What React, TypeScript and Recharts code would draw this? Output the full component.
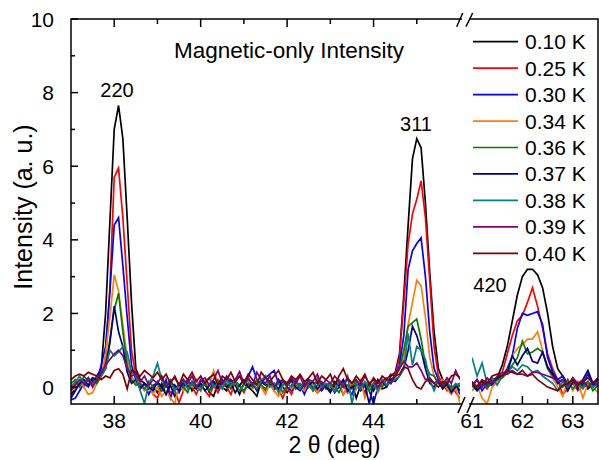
import { LineChart, Line, XAxis, YAxis } from "recharts";

const FONT = '"Liberation Sans", Arial, Helvetica, sans-serif';
const INK = "#000";
const W = 599;
const H = 460;
const PLOT_TOP = 19;
const PLOT_BOTTOM = 404;
const LEFT_X0 = 71;
const LEFT_X1 = 460;
const RIGHT_X0 = 472;
const RIGHT_X1 = 598;

// 2-theta grid, left block (37-46 deg) and right block (61-63.5 deg)
const X_LEFT = [
  37.0, 37.1, 37.2, 37.3, 37.4, 37.5, 37.6, 37.7, 37.8, 37.9,
  38.0, 38.1, 38.2, 38.3, 38.4, 38.5, 38.6, 38.7, 38.8, 38.9,
  39.0, 39.1, 39.2, 39.3, 39.4, 39.5, 39.6, 39.7, 39.8, 39.9,
  40.0, 40.1, 40.2, 40.3, 40.4, 40.5, 40.6, 40.7, 40.8, 40.9,
  41.0, 41.1, 41.2, 41.3, 41.4, 41.5, 41.6, 41.7, 41.8, 41.9,
  42.0, 42.1, 42.2, 42.3, 42.4, 42.5, 42.6, 42.7, 42.8, 42.9,
  43.0, 43.1, 43.2, 43.3, 43.4, 43.5, 43.6, 43.7, 43.8, 43.9,
  44.0, 44.1, 44.2, 44.3, 44.4, 44.5, 44.6, 44.7, 44.8, 44.9,
  45.0, 45.1, 45.2, 45.3, 45.4, 45.5, 45.6, 45.7, 45.8, 45.9, 46.0,
];
const X_RIGHT = [
  61.0, 61.1, 61.2, 61.3, 61.4, 61.5, 61.6, 61.7, 61.8, 61.9,
  62.0, 62.1, 62.2, 62.3, 62.4, 62.5, 62.6, 62.7, 62.8, 62.9,
  63.0, 63.1, 63.2, 63.3, 63.4, 63.5,
];

const K010_L = [
  -0.2, -0.05, 0.1, 0.05, 0.2, 0.15, 0.3, 0.5, 2.0, 4.5,
  7.0, 7.65, 6.75, 4.6, 2.3, 0.5, 0.2, 0.1, -0.05, 0.0,
  -0.15, 0.1, -0.2, 0.05, -0.25, -0.1, 0.0, 0.2, -0.1, 0.05,
  -0.05, 0.15, -0.15, -0.25, 0.1, 0.0, -0.1, 0.2, 0.05, -0.2,
  0.1, 0.0, -0.1, -0.25, 0.15, 0.05, 0.1, -0.1, 0.2, 0.0,
  -0.15, 0.05, 0.1, -0.05, 0.15, 0.2, 0.0, -0.15, 0.1, 0.05,
  -0.1, 0.15, 0.05, -0.2, 0.0, 0.1, -0.3, 0.05, -0.15, 0.1,
  -0.1, 0.2, -0.05, 0.0, 0.3, 0.4, 0.9, 2.5, 4.4, 6.2,
  6.75, 6.5, 5.0, 3.1, 1.5, 0.5, 0.2, 0.0, -0.1, 0.05, -0.1,
];
const K025_L = [
  -0.1, 0.1, 0.2, 0.0, 0.25, 0.1, 0.3, 0.4, 0.7, 2.7,
  5.7, 5.95, 4.6, 2.8, 1.0, 0.3, 0.1, -0.1, 0.05, -0.2,
  -0.3, 0.0, 0.1, -0.15, -0.1, -0.42, -0.1, 0.15, 0.0, -0.2,
  0.1, -0.1, -0.25, 0.05, -0.15, 0.1, 0.0, -0.2, 0.15, 0.05,
  -0.15, 0.1, -0.05, 0.2, 0.0, -0.1, 0.15, 0.05, -0.05, -0.3,
  0.0, -0.2, 0.1, 0.05, -0.1, 0.0, 0.15, -0.15, -0.05, 0.1,
  0.0, -0.1, 0.2, 0.05, -0.15, 0.1, -0.05, 0.15, -0.2, 0.0,
  0.1, -0.1, 0.2, 0.05, 0.15, 0.35, 0.8, 2.3, 3.9, 4.7,
  5.1, 5.6, 4.6, 2.9, 1.1, 0.3, 0.1, -0.1, 0.05, -0.15, -0.3,
];
const K030_L = [
  -0.35, -0.3, -0.1, 0.1, 0.0, 0.2, 0.15, 0.6, 1.1, 2.6,
  4.4, 4.6, 3.3, 1.9, 0.6, 0.2, 0.0, 0.1, -0.2, 0.05,
  0.1, -0.1, 0.2, -0.3, 0.05, -0.15, 0.1, 0.0, 0.15, -0.05,
  0.2, 0.05, -0.1, 0.15, 0.0, 0.1, 0.25, 0.05, 0.15, 0.3,
  0.1, 0.3, 0.55, 0.2, 0.1, 0.25, 0.35, 0.45, 0.1, 0.2,
  0.0, -0.1, 0.15, 0.05, -0.2, 0.1, 0.0, 0.15, -0.1, 0.05,
  0.1, -0.15, 0.0, 0.2, -0.05, -0.2, 0.1, -0.1, 0.05, -0.1,
  -0.45, 0.0, 0.15, 0.05, 0.2, 0.3, 0.6, 1.4, 3.2, 3.7,
  3.9, 4.05, 3.0, 1.5, 0.5, 0.2, 0.0, 0.15, -0.1, 0.05, -0.2,
];
const K034_L = [
  0.05, -0.1, 0.15, 0.0, -0.2, -0.15, 0.1, 0.3, 0.9, 1.9,
  3.05, 2.6, 1.7, 0.8, 0.3, 0.1, 0.15, -0.1, 0.05, -0.2,
  0.0, -0.25, -0.1, -0.3, -0.45, 0.05, -0.1, 0.1, 0.0, 0.2,
  -0.1, 0.15, 0.05, 0.45, 0.1, -0.05, 0.2, 0.0, -0.15, 0.05,
  0.1, 0.2, -0.05, 0.15, 0.0, -0.2, 0.1, -0.1, -0.25, 0.05,
  0.15, -0.05, 0.1, 0.0, -0.1, 0.2, 0.05, -0.15, 0.1, 0.0,
  0.05, -0.1, 0.15, -0.2, 0.0, 0.1, -0.05, 0.2, -0.3, 0.0,
  0.1, -0.15, 0.05, 0.2, 0.1, 0.25, 0.5, 0.8, 1.7, 2.3,
  2.9, 2.75, 1.9, 0.8, 0.3, 0.1, 0.2, -0.05, -0.2, 0.0, -0.45,
];
const K036_L = [
  0.1, 0.2, 0.0, 0.3, 0.15, 0.25, 0.1, 0.3, 0.5, 1.3,
  2.1, 2.55, 1.5, 0.6, 0.2, 0.05, 0.1, -0.05, 0.15, 0.0,
  0.1, -0.1, 0.05, 0.2, -0.05, 0.1, 0.0, -0.15, 0.15, 0.05,
  0.0, 0.1, -0.1, 0.05, 0.2, 0.0, 0.1, -0.05, 0.15, 0.05,
  -0.1, 0.1, 0.0, 0.2, 0.05, -0.05, 0.15, 0.0, 0.1, -0.15,
  0.05, 0.15, -0.05, 0.1, 0.0, 0.2, -0.1, 0.05, 0.15, -0.05,
  0.1, 0.0, -0.15, 0.1, 0.05, -0.05, 0.2, 0.0, 0.1, -0.1,
  0.05, 0.15, 0.0, 0.2, 0.1, 0.3, 0.5, 1.0, 1.65, 1.75,
  1.85, 1.3, 0.6, 0.35, 0.3, 0.1, 0.0, 0.15, -0.1, 0.05, 0.1,
];
const K037_L = [
  -0.3, -0.1, 0.1, 0.2, 0.05, 0.25, 0.2, 0.35, 0.5, 1.2,
  2.2, 1.5, 1.1, 0.4, 0.1, 0.2, -0.05, 0.1, 0.0, -0.1,
  0.15, 0.0, -0.2, 0.1, 0.05, -0.1, 0.2, 0.0, 0.1, -0.05,
  0.1, -0.1, 0.05, 0.15, -0.05, 0.2, 0.0, 0.1, -0.15, 0.05,
  0.2, 0.0, 0.1, -0.1, 0.15, 0.3, 0.05, 0.1, -0.05, 0.15,
  0.05, 0.2, 0.0, -0.1, 0.1, 0.05, 0.15, -0.05, 0.1, 0.0,
  -0.15, 0.1, 0.05, 0.2, -0.1, 0.0, 0.05, 0.1, 0.05, -0.45,
  0.1, -0.05, 0.15, 0.0, 0.2, 0.15, 0.3, 0.5, 1.0, 1.65,
  1.4, 1.0, 0.5, 0.1, 0.0, 0.15, -0.05, 0.1, -0.15, 0.0, 0.05,
];
const K038_L = [
  0.0, 0.15, 0.3, 0.1, 0.25, 0.05, 0.2, 0.3, 0.5, 1.0,
  0.85, 0.95, 1.1, 0.95, 0.4, 0.3, -0.1, -0.45, 0.1, 0.3,
  0.65, 0.2, 0.0, 0.15, -0.1, 0.05, 0.2, -0.05, 0.1, 0.0,
  -0.1, 0.15, 0.25, 0.0, 0.1, -0.05, 0.2, 0.05, 0.15, -0.1,
  0.05, 0.2, 0.1, -0.05, 0.15, 0.3, 0.0, 0.1, -0.15, 0.05,
  0.1, 0.0, 0.2, -0.05, 0.15, 0.05, -0.1, 0.25, 0.0, 0.1,
  0.05, -0.1, 0.15, 0.0, 0.3, -0.45, 0.1, -0.05, 0.15, 0.0,
  0.1, -0.1, 0.2, 0.05, 0.15, 0.2, 0.3, 0.5, 1.45, 0.6,
  1.1, 1.0, 0.75, 0.2, -0.1, 0.2, 0.05, 0.15, -0.05, 0.1, 0.0,
];
const K039_L = [
  -0.1, 0.05, 0.2, 0.1, 0.25, 0.0, 0.2, 0.4, 0.6, 0.75,
  0.9, 1.0, 0.85, 0.5, 0.3, 0.35, 0.15, 0.3, 0.05, 0.2,
  0.1, 0.3, 0.0, 0.15, 0.25, 0.05, 0.2, 0.1, 0.3, 0.0,
  0.15, 0.25, 0.05, 0.2, 0.45, 0.1, 0.3, 0.15, 0.2, 0.42,
  0.1, 0.25, 0.05, 0.4, 0.2, 0.1, 0.3, 0.0, 0.2, 0.15,
  0.05, 0.25, 0.1, 0.3, 0.0, 0.2, 0.15, 0.35, 0.05, 0.2,
  0.1, 0.3, 0.15, 0.0, 0.25, 0.1, 0.2, 0.05, 0.3, 0.1,
  0.2, 0.0, 0.15, 0.25, 0.1, 0.3, 0.5, 0.7, 0.55, 0.55,
  0.65, 0.45, 0.2, 0.25, 0.1, 0.2, 0.05, 0.25, 0.1, 0.45, 0.2,
];
const K040_L = [
  0.2, 0.3, 0.35, 0.3, 0.4, 0.35, 0.3, 0.2, 0.3, 0.25,
  0.45, 0.5, 0.35, -0.05, 0.45, 0.4, 0.3, 0.45, 0.35, 0.25,
  0.4, 0.2, 0.35, 0.1, 0.3, 0.05, 0.35, 0.2, 0.4, 0.15,
  0.3, 0.1, 0.25, 0.35, 0.05, 0.3, 0.2, 0.4, 0.15, 0.3,
  0.1, 0.35, 0.2, 0.05, 0.4, 0.25, 0.15, 0.3, 0.45, 0.2,
  0.1, 0.3, 0.2, 0.35, 0.15, 0.25, 0.4, 0.1, 0.3, 0.2,
  0.35, 0.05, 0.3, 0.5, 0.2, 0.1, 0.3, 0.15, 0.35, 0.05,
  0.25, 0.1, 0.3, 0.2, 0.35, 0.3, 0.35, 0.55, 0.5, 0.2,
  0.0, -0.05, 0.15, 0.2, 0.1, 0.0, 0.15, 0.1, 0.3, 0.35, 0.25,
];

const K010_R = [0.1, -0.05, 0.15, 0.05, 0.2, 0.25, 0.6, 1.1, 1.8, 2.5, 3.0, 3.2, 3.2, 3.05, 2.7, 2.0, 1.1, 0.5, 0.3, 0.1, 0.2, 0.0, 0.15, -0.05, 0.1, 0.05];
const K025_R = [-0.1, 0.05, 0.1, -0.05, 0.15, 0.2, 0.4, 0.9, 1.4, 1.8, 1.95, 2.3, 2.7, 2.2, 1.6, 0.9, 0.5, 0.2, -0.2, -0.05, 0.1, -0.1, 0.05, 0.15, 0.0, 0.1];
const K030_R = [0.0, 0.2, -0.1, 0.1, 0.05, 0.2, 0.3, 0.5, 0.85, 1.6, 2.0, 1.95, 2.0, 2.05, 1.7, 0.8, 0.4, 0.2, 0.3, 0.0, 0.25, -0.05, 0.1, 0.35, 0.05, 0.2];
const K034_R = [-0.1, 0.05, -0.3, -0.45, 0.0, 0.15, 0.25, 0.4, 0.85, 1.05, 1.15, 1.3, 1.3, 1.5, 1.0, 0.5, 0.25, 0.0, -0.25, 0.2, -0.1, 0.15, -0.3, 0.1, 0.0, -0.15];
const K036_R = [0.05, -0.1, 0.1, 0.0, 0.15, 0.2, 0.25, 0.4, 0.6, 0.8, 1.25, 0.9, 0.95, 1.05, 0.95, 0.5, 0.3, 0.15, 0.0, 0.2, -0.05, 0.1, 0.0, 0.15, -0.1, 0.05];
const K037_R = [0.1, -0.1, 0.05, 0.15, 0.1, 0.25, 0.3, 0.4, 0.85, 0.6, 0.85, 1.05, 0.7, 0.65, 0.95, 0.55, 0.35, 0.1, 0.2, -0.1, 0.15, 0.05, 0.2, 0.45, 0.1, 0.25];
const K038_R = [0.8, 0.3, 0.65, 0.1, 0.25, 0.05, 0.3, 0.4, 0.55, 0.45, 0.6, 0.55, 0.4, 0.45, 0.3, 0.2, 0.1, -0.1, 0.15, 0.0, 0.2, 0.1, -0.05, 0.15, 0.0, 0.1];
const K039_R = [0.05, 0.2, 0.0, 0.25, 0.1, 0.3, 0.4, 0.35, 0.45, 0.35, 0.35, 0.3, 0.4, 0.4, 0.35, 0.3, 0.25, 0.15, 0.2, 0.05, 0.25, 0.1, 0.2, 0.0, 0.15, 0.05];
const K040_R = [0.15, 0.0, 0.2, 0.1, 0.3, 0.35, 0.3, 0.45, 0.4, 0.35, 0.45, 0.3, 0.35, 0.2, 0.1, 0.0, -0.05, -0.1, 0.05, 0.1, 0.2, 0.05, 0.15, 0.25, 0.1, 0.2];

const SERIES = [
  { key: "k010", label: "0.10 K", color: "#000000", left: K010_L, right: K010_R },
  { key: "k025", label: "0.25 K", color: "#ff0000", left: K025_L, right: K025_R },
  { key: "k030", label: "0.30 K", color: "#0000ff", left: K030_L, right: K030_R },
  { key: "k034", label: "0.34 K", color: "#ff8000", left: K034_L, right: K034_R },
  { key: "k036", label: "0.36 K", color: "#008000", left: K036_L, right: K036_R },
  { key: "k037", label: "0.37 K", color: "#000080", left: K037_L, right: K037_R },
  { key: "k038", label: "0.38 K", color: "#008080", left: K038_L, right: K038_R },
  { key: "k039", label: "0.39 K", color: "#800080", left: K039_L, right: K039_R },
  { key: "k040", label: "0.40 K", color: "#800000", left: K040_L, right: K040_R },
];

const Y_DOMAIN: [number, number] = [-0.46, 10];
const Y_TICKS = [0, 1, 2, 3, 4, 5, 6, 7, 8, 9, 10];
const Y_LABELS = [0, 2, 4, 6, 8, 10];
const LEFT_DOMAIN: [number, number] = [37, 46];
const RIGHT_DOMAIN: [number, number] = [61, 63.5];
const LEFT_TICKS = [38, 39, 40, 41, 42, 43, 44, 45];
const LEFT_LABELS = [38, 40, 42, 44];
const RIGHT_TICKS = [61, 61.5, 62, 62.5, 63];
const RIGHT_LABELS = [61, 62, 63];

const PEAKS = [
  { text: "220", x: 117, y: 97 },
  { text: "311", x: 416, y: 131 },
  { text: "420", x: 490, y: 292 },
];

const leftRows = X_LEFT.map((x, i) => {
  const row: Record<string, number> = { x };
  SERIES.forEach((s) => (row[s.key] = s.left[i]));
  return row;
});
const rightRows = X_RIGHT.map((x, i) => {
  const row: Record<string, number> = { x };
  SERIES.forEach((s) => (row[s.key] = s.right[i]));
  return row;
});

const FRAME = 1.5;

// pixel position of a top-edge tick on the left block
const leftPx = (v: number) =>
  LEFT_X0 + ((v - LEFT_DOMAIN[0]) / (LEFT_DOMAIN[1] - LEFT_DOMAIN[0])) * (LEFT_X1 - LEFT_X0);

// ticks drawn inward, labels only on the major values
function bottomTick(labels: number[], skipLine: number[] = []) {
  return (props: any) => {
    const { x, y, payload } = props;
    const v = payload.value;
    const major = labels.includes(v);
    return (
      <g>
        {!skipLine.includes(v) && (
          <line x1={x} x2={x} y1={y} y2={y - (major ? 8 : 5)} stroke={INK} strokeWidth={FRAME} />
        )}
        {major && (
          <text x={x} y={y + 24} textAnchor="middle" fontSize={21} fontFamily={FONT} fill={INK}>
            {v}
          </text>
        )}
      </g>
    );
  };
}

const leftYTick = (props: any) => {
  const { x, y, payload } = props;
  const v = payload.value;
  const major = Y_LABELS.includes(v);
  return (
    <g>
      <line x1={x} x2={x + (major ? 7 : 4)} y1={y} y2={y} stroke={INK} strokeWidth={FRAME} />
      {major && (
        <text x={x - 17} y={y + 7.5} textAnchor="end" fontSize={21} fontFamily={FONT} fill={INK}>
          {v}
        </text>
      )}
    </g>
  );
};

export default function App() {
  return (
    <div
      style={{
        position: "absolute",
        left: 0,
        top: 0,
        width: W,
        height: H,
        background: "#fff",
        fontFamily: FONT,
      }}
    >
      <div style={{ position: "absolute", left: 0, top: 0 }}>
        <LineChart
          width={W}
          height={H}
          data={leftRows}
          margin={{ top: PLOT_TOP, right: W - LEFT_X1, bottom: 0, left: 0 }}
        >
          <XAxis
            dataKey="x"
            type="number"
            domain={LEFT_DOMAIN}
            ticks={LEFT_TICKS}
            interval={0}
            allowDataOverflow
            height={H - PLOT_BOTTOM}
            tickSize={0}
            tickMargin={0}
            tickLine={false}
            axisLine={false}
            tick={bottomTick(LEFT_LABELS)}
          />
          <YAxis
            type="number"
            domain={Y_DOMAIN}
            ticks={Y_TICKS}
            interval={0}
            allowDataOverflow
            width={LEFT_X0}
            tickSize={0}
            tickMargin={0}
            tickLine={false}
            axisLine={false}
            tick={leftYTick}
          />
          {SERIES.map((s) => (
            <Line
              key={s.key}
              type="linear"
              dataKey={s.key}
              stroke={s.color}
              strokeWidth={1.7}
              dot={false}
              isAnimationActive={false}
            />
          ))}
        </LineChart>
      </div>

      <div style={{ position: "absolute", left: 0, top: 0 }}>
        <LineChart
          width={W}
          height={H}
          data={rightRows}
          margin={{ top: PLOT_TOP, right: W - RIGHT_X1, bottom: 0, left: RIGHT_X0 }}
        >
          <XAxis
            dataKey="x"
            type="number"
            domain={RIGHT_DOMAIN}
            ticks={RIGHT_TICKS}
            interval={0}
            allowDataOverflow
            height={H - PLOT_BOTTOM}
            tickSize={0}
            tickMargin={0}
            tickLine={false}
            axisLine={false}
            tick={bottomTick(RIGHT_LABELS, [61])}
          />
          <YAxis type="number" domain={Y_DOMAIN} allowDataOverflow hide />
          {SERIES.map((s) => (
            <Line
              key={s.key}
              type="linear"
              dataKey={s.key}
              stroke={s.color}
              strokeWidth={1.7}
              dot={false}
              isAnimationActive={false}
            />
          ))}
        </LineChart>
      </div>

      <svg
        width={W}
        height={H}
        style={{ position: "absolute", left: 0, top: 0, pointerEvents: "none" }}
        fontFamily={FONT}
      >
        {/* plot frame, opened where the axis is broken */}
        <rect
          x={LEFT_X0}
          y={PLOT_TOP}
          width={RIGHT_X1 - LEFT_X0}
          height={PLOT_BOTTOM - PLOT_TOP}
          fill="none"
          stroke={INK}
          strokeWidth={FRAME}
        />
        <rect x={LEFT_X1 + 2} y={PLOT_TOP - 3} width={RIGHT_X0 - LEFT_X1 - 5} height={6} fill="#fff" />
        <rect x={LEFT_X1 + 2} y={PLOT_BOTTOM - 3} width={RIGHT_X0 - LEFT_X1 - 5} height={6} fill="#fff" />
        <g stroke={INK} strokeWidth={FRAME}>
          {LEFT_TICKS.map((v) => (
            <line
              key={v}
              x1={leftPx(v)}
              x2={leftPx(v)}
              y1={PLOT_TOP}
              y2={PLOT_TOP + (LEFT_LABELS.includes(v) ? 8 : 5)}
            />
          ))}
          {/* axis break marks */}
          <line x1={456.7} y1={26.7} x2={462.7} y2={13} />
          <line x1={466} y1={26.7} x2={472.7} y2={13} />
          <line x1={458} y1={413} x2={465} y2={397} />
          <line x1={467} y1={413} x2={474} y2={397} />
        </g>

        <text x={289} y={58} textAnchor="middle" fontSize={22.5} fill={INK}>
          Magnetic-only Intensity
        </text>

        {PEAKS.map((p) => (
          <text key={p.text} x={p.x} y={p.y} textAnchor="middle" fontSize={20} fill={INK}>
            {p.text}
          </text>
        ))}

        {SERIES.map((s, i) => {
          const y = 41.7 + 26.45 * i;
          return (
            <g key={s.key}>
              <line x1={473} x2={518} y1={y} y2={y} stroke={s.color} strokeWidth={1.7} />
              <text x={525} y={y + 7.5} fontSize={21} fill={INK}>
                {s.label}
              </text>
            </g>
          );
        })}

        <text x={334.5} y={453} textAnchor="middle" fontSize={23} fill={INK}>
          2 θ (deg)
        </text>
        <text
          x={32}
          y={207}
          textAnchor="middle"
          fontSize={25}
          fill={INK}
          transform="rotate(-90 32 207)"
        >
          Intensity (a. u.)
        </text>
      </svg>
    </div>
  );
}
